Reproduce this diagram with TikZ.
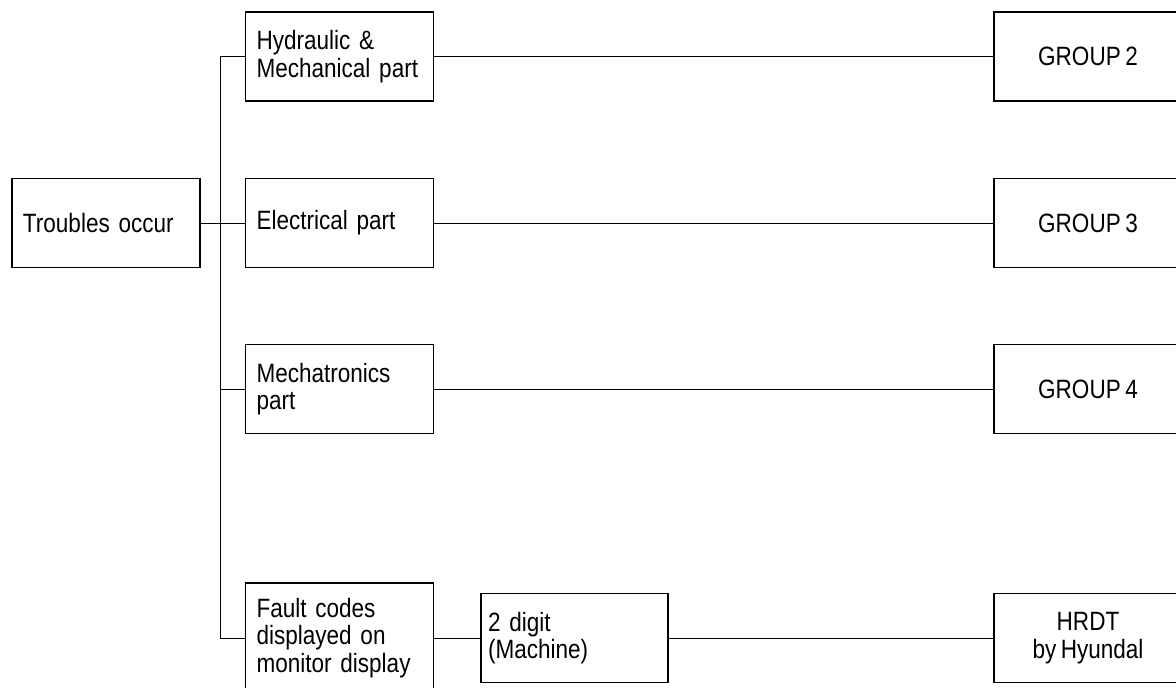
\documentclass[tikz,border=0pt]{standalone}
\usepackage{fontspec}
\setmainfont{Liberation Sans}[FakeStretch=0.85]
\newcommand{\boxfont}{\fontsize{26.5pt}{27.5pt}\selectfont
  \spaceskip=4.5pt plus 1pt minus 1pt\relax}
\newcommand{\clxa}{106}
\newcommand{\clxb}{339.5}
\newcommand{\clxc}{574.5}
\newcommand{\clxd}{1088}
\newcommand{\rwya}{56.5}
\newcommand{\rwyb}{223}
\newcommand{\rwyc}{389}
\newcommand{\rwyd}{638}
\begin{document}
\begin{tikzpicture}[x=1pt,y=-1pt,
    font=\boxfont,
    box/.style={draw,line width=1.2pt,minimum height=89pt,inner ysep=0pt},
    lbox/.style={box,text width=166pt,inner xsep=11pt,align=left},
    dbox/.style={box,text width=173pt,inner xsep=7pt,align=left},
    gbox/.style={box,minimum width=188pt,align=center},
    conn/.style={line width=1pt}]

    \path[use as bounding box,clip] (0,0) rectangle (1176,688);

    \node[lbox] (troubles) at (\clxa, \rwyb) {Troubles occur};

    \node[lbox] (hyd) at (\clxb, \rwya) {Hydraulic \&\\Mechanical part};
    \node[lbox] (elec) at (\clxb, \rwyb) {Electrical part};
    \node[lbox] (mech) at (\clxb, \rwyc) {Mechatronics\\part};
    \node[lbox,minimum height=110pt] (fault) at (\clxb, \rwyd)
      {Fault codes\\displayed on\\monitor display};

    \node[dbox] (digit) at (\clxc, \rwyd) {2 digit\\(Machine)};

    \node[gbox] (grpb) at (\clxd, \rwya) {GROUP 2};
    \node[gbox] (grpc) at (\clxd, \rwyb) {GROUP 3};
    \node[gbox] (grpd) at (\clxd, \rwyc) {GROUP 4};
    \node[gbox] (hrdt) at (\clxd, \rwyd) {HRDT\\by Hyundal};

    % trunk and branches
    \draw[conn] (troubles.east) -- (elec.west);
    \draw[conn] (hyd.west) -- ++(-24,0) coordinate (trunk) |- (fault.west);
    \draw[conn] (mech.west) -- (mech.west -| trunk);

    \draw[conn] (hyd.east) -- (grpb.west);
    \draw[conn] (elec.east) -- (grpc.west);
    \draw[conn] (mech.east) -- (grpd.west);
    \draw[conn] (fault.east) -- (digit.west);
    \draw[conn] (digit.east) -- (hrdt.west);
  \end{tikzpicture}
\end{document}
